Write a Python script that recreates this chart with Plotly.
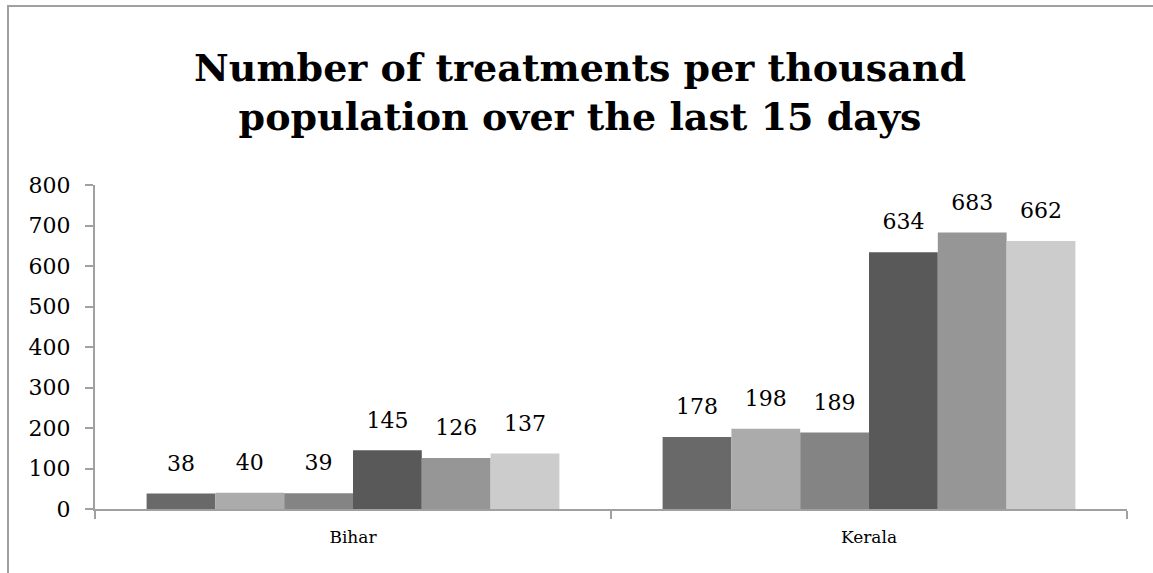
import plotly.graph_objects as go

categories = ["Bihar", "Kerala"]
series_names = ["Series 1", "Series 2", "Series 3", "Series 4", "Series 5", "Series 6"]
series_1 = [38, 178]
series_2 = [40, 198]
series_3 = [39, 189]
series_4 = [145, 634]
series_5 = [126, 683]
series_6 = [137, 662]
series_values = [series_1, series_2, series_3, series_4, series_5, series_6]
y_ticks = [0, 100, 200, 300, 400, 500, 600, 700, 800]

colors = ["#696969", "#ababab", "#848484", "#595959", "#969696", "#cccccc"]
FONT = "DejaVu Serif"

fig = go.Figure()
for i, (name, vals) in enumerate(zip(series_names, series_values)):
    fig.add_trace(go.Bar(
        x=categories, y=vals, name=name, offsetgroup=str(i),
        marker=dict(color=colors[i], line=dict(width=0)),
        showlegend=False,
    ))
for i, (name, vals) in enumerate(zip(series_names, series_values)):
    fig.add_trace(go.Scatter(
        x=categories, y=vals, name=name, offsetgroup=str(i),
        mode="markers+text", text=[str(v) for v in vals],
        textposition="top center",
        textfont=dict(family=FONT, size=22, color="#000000"),
        marker=dict(size=26, color="rgba(0,0,0,0)"),
        showlegend=False, hoverinfo="skip", cliponaxis=False,
    ))

fig.update_layout(
    width=1153, height=573,
    paper_bgcolor="white", plot_bgcolor="white",
    margin=dict(l=95, r=26, t=185, b=64),
    barmode="group", bargap=0.2, bargroupgap=0,
    scattermode="group", scattergap=0.2,
    title=dict(
        text="Number of treatments per thousand<br>population over the last 15 days",
        font=dict(family=FONT, size=38, color="#000000", weight="bold"),
        x=580 / 1153, xanchor="center", xref="container",
        y=1 - 81 / 573, yanchor="middle", yref="container",
    ),
    xaxis=dict(
        type="category", showline=True, linecolor="#a0a0a0", linewidth=2,
        ticks="outside", tickson="boundaries", ticklen=8, tickcolor="#a0a0a0", tickwidth=2,
        tickfont=dict(family=FONT, size=17, color="#000000"),
        ticklabelstandoff=12, showgrid=False, zeroline=False,
    ),
    yaxis=dict(
        range=[0, 800], tickvals=y_ticks, showline=True, linecolor="#a0a0a0", linewidth=2,
        ticks="outside", ticklen=8, tickcolor="#a0a0a0", tickwidth=2,
        tickfont=dict(family=FONT, size=22, color="#000000"),
        ticklabelstandoff=10, showgrid=False, zeroline=False,
    ),
    shapes=[dict(
        type="rect", xref="paper", yref="paper",
        x0=(8 - 95) / 1032, x1=1.2, y0=-0.6, y1=(509 - 6) / 324,
        line=dict(color="#a0a0a0", width=2), fillcolor="rgba(0,0,0,0)", layer="below",
    )],
)

fig.write_html("out.html")
